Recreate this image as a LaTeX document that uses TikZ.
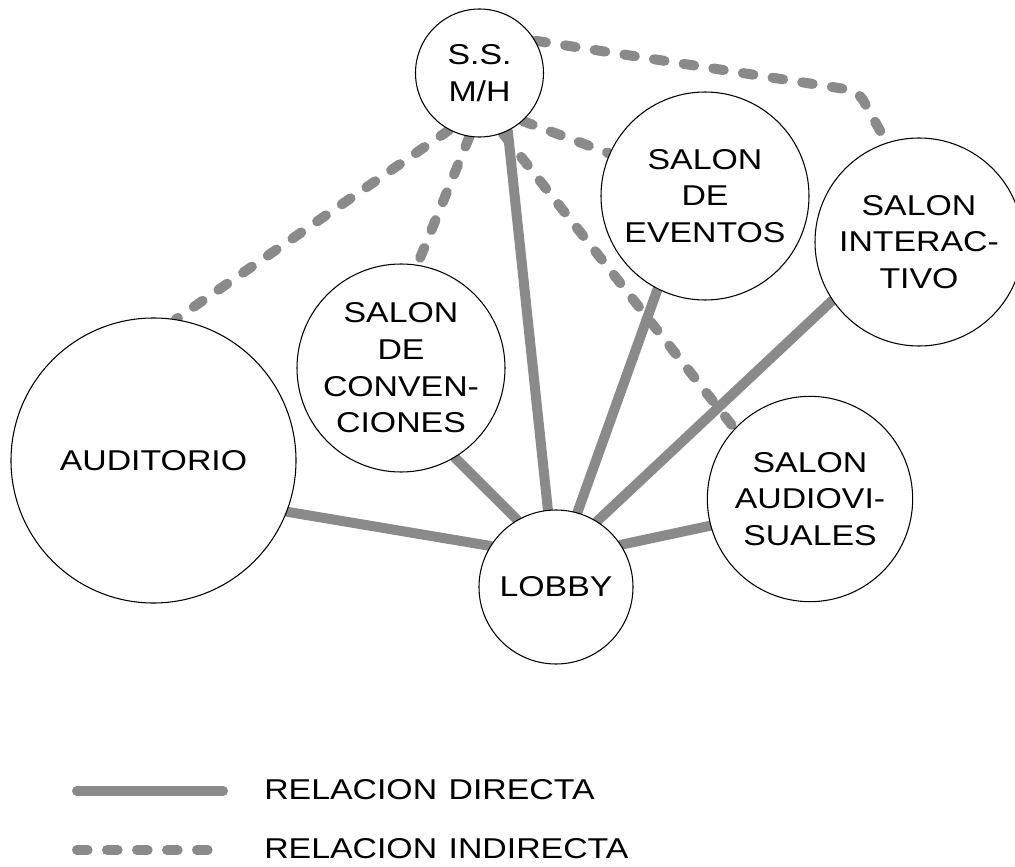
\documentclass[tikz,border=0pt]{standalone}
\usepackage{fontspec}
\setmainfont{Liberation Sans}[FakeStretch=1.18]
\usetikzlibrary{backgrounds}
\definecolor{linkgray}{HTML}{8A8A8A}

\begin{document}
\begin{tikzpicture}[x=0.75pt, y=-0.75pt,
    room/.style={circle, draw, line width=0.8pt, fill=white, inner sep=0pt,
        align=center, font=\fontsize{21.5}{27.5}\selectfont},
    direct/.style={line width=7.5pt, draw=linkgray, line cap=round},
    indirect/.style={direct, dash pattern=on 8pt off 14.5pt},
    legendtxt/.style={anchor=west, inner sep=0pt, font=\fontsize{21.5}{27}\selectfont}]
    \useasboundingbox (0,0) rectangle (1015,867);

    % Espacios
    \node[room, minimum size=96pt]     (ssmh)  at (479.5,73)  {S.S.\\M/H};
    \node[room, minimum size=156pt]    (evt)   at (705,196)   {SALON\\DE\\EVENTOS};
    \node[room, minimum size=156pt]    (inter) at (919,242)   {SALON\\INTERAC-\\TIVO};
    \node[room, minimum size=156pt]    (conv)  at (401,368)   {SALON\\DE\\CONVEN-\\CIONES};
    \node[room, minimum size=213.75pt] (aud)   at (153.5,460.5) {AUDITORIO};
    \node[room, minimum size=115.5pt]  (lobby) at (556,587)   {LOBBY};
    \node[room, minimum size=154pt]    (audio) at (810,499)   {SALON\\AUDIOVI-\\SUALES};
    \coordinate (turn) at (858,91);

    \begin{scope}[on background layer]
        % Relacion directa
        \draw[direct] (aud.-21)    -- (lobby.148);
        \draw[direct] (conv.-59)   -- (lobby.120);
        \draw[direct] (ssmh.-64)   -- (lobby.96);
        \draw[direct] (evt.243)    -- (lobby.74);
        \draw[direct] (inter.214)  -- (lobby.58);
        \draw[direct] (audio.195)  -- (lobby.33);
        % Relacion indirecta
        \draw[indirect] (ssmh.242) -- (aud.81);
        \draw[indirect] (ssmh.261) -- (conv.81);
        \draw[indirect] (ssmh.-48) -- (evt.156);
        \draw[indirect] (ssmh.-69) -- (audio.137);
        \draw[indirect, rounded corners=8pt] (ssmh.30) -- (turn) -- (inter.108);
    \end{scope}

    % Leyenda
    \coordinate (dirA) at (77,791);
    \coordinate (dirB) at (223,791);
    \coordinate (indA) at (77,850);
    \coordinate (indB) at (223,850);
    \draw[direct] (dirA) -- (dirB);
    \draw[indirect] (indA) -- (indB);
    \node[legendtxt] (dirtxt) at (264,790) {RELACION\hspace{0.4em}DIRECTA};
    \node[legendtxt] (indtxt) at (264,849) {RELACION\hspace{0.4em}INDIRECTA};
\end{tikzpicture}
\end{document}
